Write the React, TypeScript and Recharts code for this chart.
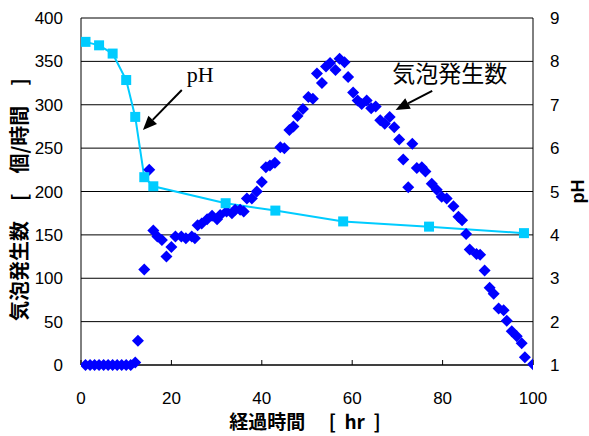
import React from "react";
import {
  ComposedChart,
  Scatter,
  Line,
  XAxis,
  YAxis,
  CartesianGrid,
  ReferenceLine,
} from "recharts";

// bubble count per hour (left axis)
const bubbleHours = [
  1, 2, 3, 4, 5, 6, 7, 8, 9, 10, 11, 12, 12.6, 14.0, 15.1, 16.0, 16.9, 17.9,
  18.9, 20.0, 20.9, 22.2, 23.2, 24.5, 25.2, 25.8, 26.7, 27.9, 29.0, 30.1, 30.8,
  32.2, 33.4, 34.1, 35.2, 36.0, 36.7, 37.8, 38.9, 40.0, 40.9, 41.8, 42.9, 44.1,
  45.0, 46.1, 47.0, 47.9, 49.1, 50.3, 51.3, 52.2, 53.3, 54.2, 55.1, 56.3, 57.2,
  58.3, 59.1, 60.2, 61.2, 62.1, 63.2, 64.2, 65.2, 66.2, 67.2, 68.3, 69.3, 70.4,
  71.3, 72.4, 73.3, 74.3, 75.4, 76.2, 77.6, 78.7, 79.8, 80.9, 82.4, 83.5, 84.3,
  85.2, 86.0, 87.5, 88.3, 89.3, 90.4, 91.3, 92.4, 93.5, 94.2, 95.3, 96.4, 97.5,
  98.2, 100,
];
const bubbleCounts = [
  0, 0, 0, 0, 0, 0, 0, 0, 0, 0, 0, 3, 28, 110, 225, 155, 148, 144, 125, 136,
  148, 148, 146, 148, 146, 161, 163, 168, 172, 168, 173, 177, 175, 179, 179,
  177, 192, 192, 200, 211, 228, 230, 233, 251, 250, 271, 275, 287, 295, 309,
  307, 336, 325, 344, 348, 340, 353, 349, 332, 314, 305, 301, 305, 296, 298,
  282, 278, 286, 274, 260, 237, 205, 255, 227, 228, 223, 209, 202, 194, 192,
  183, 171, 167, 151, 133, 128, 127, 109, 89, 82, 65, 63, 51, 39, 33, 25, 9, 1,
];

// pH (right axis)
const phHours = [1, 4, 7, 10, 12, 14, 16, 32, 43, 58, 77, 98];
const phValues = [8.45, 8.37, 8.18, 7.57, 6.72, 5.33, 5.12, 4.73, 4.56, 4.31, 4.19, 4.04];

const hourTicks = [0, 20, 40, 60, 80, 100];
const countTicks = [0, 50, 100, 150, 200, 250, 300, 350, 400];
const phTicks = [1, 2, 3, 4, 5, 6, 7, 8, 9];

const bubbleData = bubbleHours.map((hour, i) => ({ hour, count: bubbleCounts[i] }));
const phData = phHours.map((hour, i) => ({ hour, ph: phValues[i] }));

const tickFont = { fontFamily: "'Liberation Sans', Arial, sans-serif", fontSize: 17, fill: "#000" };
const titleFont = "'Noto Sans CJK JP', 'Liberation Sans', sans-serif";

const Diamond = (props: any) => {
  const { cx, cy } = props;
  const r = 6;
  return (
    <path
      d={`M${cx},${cy - r}L${cx + r},${cy}L${cx},${cy + r}L${cx - r},${cy}Z`}
      fill="#0000ff"
    />
  );
};

const SquareDot = (props: any) => {
  const { cx, cy } = props;
  return <rect x={cx - 5} y={cy - 5} width={10} height={10} fill="#00ccff" />;
};

// arrow with a text near its tail
const makeArrow = (text: string, dx: number, dy: number, font: string, size: number) =>
  (p: any) => {
    const { x1, y1, x2, y2 } = p;
    const ang = Math.atan2(y2 - y1, x2 - x1);
    const len = 14;
    const w = 6;
    const bx = x2 - len * Math.cos(ang);
    const by = y2 - len * Math.sin(ang);
    const px = -Math.sin(ang) * w;
    const py = Math.cos(ang) * w;
    return (
      <g>
        <line x1={x1} y1={y1} x2={bx} y2={by} stroke="#000" strokeWidth={2} />
        <polygon points={`${x2},${y2} ${bx + px},${by + py} ${bx - px},${by - py}`} fill="#000" />
        <text x={x1 + dx} y={y1 + dy} fontFamily={font} fontSize={size} fill="#000">
          {text}
        </text>
      </g>
    );
  };

export default function App() {
  return (
    <div style={{ position: "absolute", left: 0, top: 0, background: "#fff" }}>
      <ComposedChart
        width={589}
        height={436}
        margin={{ top: 18, right: 0, bottom: 0, left: 0 }}
      >
        <CartesianGrid horizontal vertical={false} stroke="#000" yAxisId="count" />
        <XAxis
          dataKey="hour"
          type="number"
          domain={[0, 100]}
          ticks={hourTicks}
          height={71}
          axisLine={{ stroke: "#000" }}
          tickLine={{ stroke: "#000" }}
          tickSize={-5}
          tickMargin={32}
          tick={tickFont}
          allowDataOverflow
          label={{
            content: ({ viewBox }: any) => (
              <text
                x={viewBox.x + viewBox.width / 2 - 2}
                y={viewBox.y + 64}
                textAnchor="middle"
                fontFamily={titleFont}
                fontWeight="bold"
                fontSize={19}
                fill="#000"
                style={{ whiteSpace: "pre" }}
              >
                経過時間　 [  hr  ]
              </text>
            ),
          }}
        />
        <YAxis
          yAxisId="count"
          orientation="left"
          width={81}
          domain={[0, 400]}
          ticks={countTicks}
          axisLine={{ stroke: "#000" }}
          tickLine={false}
          tickSize={6}
          tickMargin={12}
          tick={tickFont}
          label={{
            content: ({ viewBox }: any) => {
              const x = 18;
              const y = viewBox.y + viewBox.height / 2 + 8;
              return (
                <text
                  x={x}
                  y={y}
                  transform={`rotate(-90 ${x} ${y})`}
                  textAnchor="middle"
                  dominantBaseline="central"
                  fontFamily={titleFont}
                  fontWeight="bold"
                  fontSize={20}
                  fill="#000"
                  style={{ whiteSpace: "pre" }}
                >
                  気泡発生数　[　個/時間　]
                </text>
              );
            },
          }}
        />
        <YAxis
          yAxisId="ph"
          orientation="right"
          width={56}
          domain={[1, 9]}
          ticks={phTicks}
          axisLine={{ stroke: "#000" }}
          tickLine={false}
          tickSize={6}
          tickMargin={11}
          tick={tickFont}
          label={{
            content: ({ viewBox }: any) => {
              const x = 578;
              const y = viewBox.y + viewBox.height / 2;
              return (
                <text
                  x={x}
                  y={y}
                  transform={`rotate(-90 ${x} ${y})`}
                  textAnchor="middle"
                  dominantBaseline="central"
                  fontFamily="'Liberation Sans', Arial, sans-serif"
                  fontWeight="bold"
                  fontSize={18}
                  fill="#000"
                >
                  pH
                </text>
              );
            },
          }}
        />
        <Scatter
          yAxisId="count"
          data={bubbleData}
          dataKey="count"
          shape={<Diamond />}
          isAnimationActive={false}
        />
        <Line
          yAxisId="ph"
          data={phData}
          dataKey="ph"
          type="linear"
          stroke="#00ccff"
          strokeWidth={2}
          dot={<SquareDot />}
          activeDot={false}
          isAnimationActive={false}
        />
        <ReferenceLine
          yAxisId="count"
          segment={[{ x: 22.3, y: 317 }, { x: 13.7, y: 271 }]}
          shape={makeArrow("pH", 5, -8, "'Liberation Serif', 'Times New Roman', serif", 22)}
        />
        <ReferenceLine
          yAxisId="count"
          segment={[{ x: 77.7, y: 316 }, { x: 69.6, y: 294 }]}
          shape={makeArrow("気泡発生数", -40, -9, titleFont, 23)}
        />
      </ComposedChart>
    </div>
  );
}
